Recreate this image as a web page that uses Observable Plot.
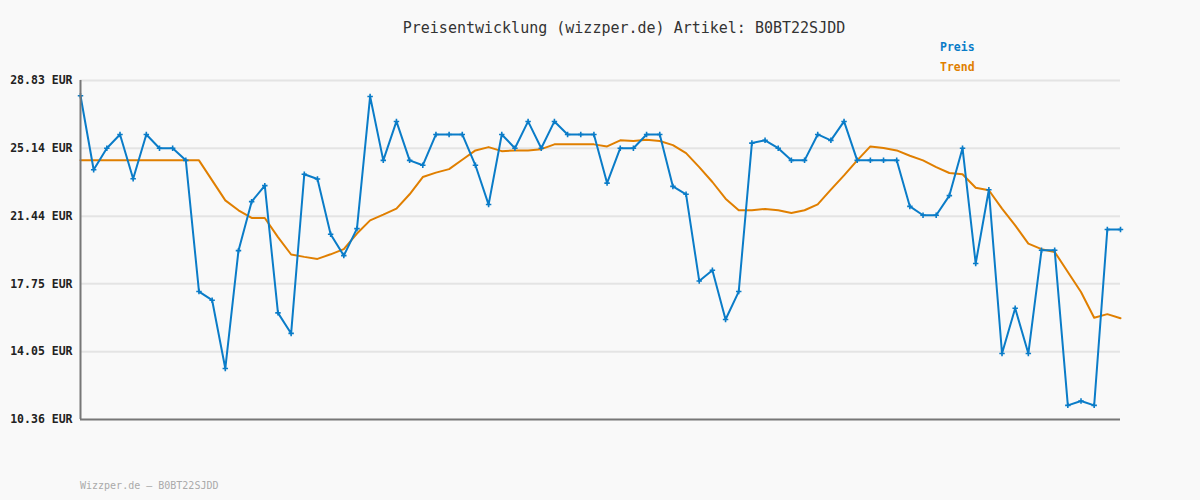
<!DOCTYPE html>
<html>
<head>
<meta charset="utf-8">
<script src="https://cdn.jsdelivr.net/npm/d3@7"></script>
<script src="https://cdn.jsdelivr.net/npm/@observablehq/plot@0.6"></script>
<style>
  html, body { margin: 0; padding: 0; background: #f9f9f9; }
  #wrap { position: relative; width: 1200px; height: 500px; background: #f9f9f9; overflow: hidden; font-family: "DejaVu Sans Mono", "Liberation Mono", monospace; }
  #title { position: absolute; left: 0; width: 1248px; top: 19px; text-align: center; font-size: 15px; color: #333; }
  .leg { position: absolute; left: 940px; font-size: 11.5px; font-weight: bold; }
  #footer { position: absolute; left: 80px; top: 480px; font-size: 10px; color: #aaa; }
  #chart { position: absolute; left: 0; top: 0; }
</style>
</head>
<body>
<div id="wrap">
  <div id="chart"></div>
  <div id="title">Preisentwicklung (wizzper.de) Artikel: B0BT22SJDD</div>
  <div class="leg" id="legPreis" style="top:40px;color:#0a7cc8">Preis</div>
  <div class="leg" id="legTrend" style="top:60px;color:#e07f00">Trend</div>
  <div id="footer">Wizzper.de – B0BT22SJDD</div>
</div>
<script>
const yTicks = [10.36, 14.05, 17.75, 21.44, 25.14, 28.83];

const preis = [
  28.0, 23.97, 25.14, 25.89, 23.48, 25.89, 25.14, 25.14, 24.48, 17.33,
  16.86, 13.14, 19.56, 22.23, 23.10, 16.17, 15.05, 23.72, 23.46, 20.45,
  19.29, 20.76, 27.96, 24.48, 26.6, 24.48, 24.21, 25.89, 25.89, 25.89,
  24.21, 22.07, 25.89, 25.14, 26.6, 25.14, 26.6, 25.89, 25.89, 25.89,
  23.24, 25.14, 25.14, 25.89, 25.89, 23.06, 22.63, 17.91, 18.49, 15.81,
  17.33, 25.42, 25.57, 25.14, 24.48, 24.48, 25.89, 25.57, 26.6, 24.48,
  24.48, 24.48, 24.48, 21.97, 21.49, 21.49, 22.56, 25.14, 18.86, 22.88,
  13.96, 16.42, 13.96, 19.58, 19.58, 11.13, 11.37, 11.13, 20.71, 20.71
];

const trend = [
  24.48, 24.48, 24.48, 24.48, 24.48, 24.48, 24.48, 24.48, 24.48, 24.48,
  23.39, 22.3, 21.76, 21.34, 21.34, 20.3, 19.35, 19.22, 19.11, 19.36,
  19.64, 20.49, 21.21, 21.52, 21.85, 22.63, 23.57, 23.81, 24.0, 24.51,
  25.02, 25.2, 24.98, 25.02, 25.02, 25.09, 25.35, 25.35, 25.35, 25.35,
  25.24, 25.57, 25.53, 25.6, 25.53, 25.31, 24.87, 24.11, 23.3, 22.39,
  21.76, 21.76, 21.83, 21.76, 21.61, 21.76, 22.08, 22.88, 23.66, 24.48,
  25.24, 25.15, 25.02, 24.73, 24.48, 24.11, 23.79, 23.72, 22.99, 22.85,
  21.85, 20.94, 19.94, 19.64, 19.49, 18.4, 17.31, 15.9, 16.1, 15.88
];

const blue = "#0a7cc8";
const orange = "#e07f00";

const rows = preis.map((p, i) => ({i, preis: p, trend: trend[i]}));

const chart = Plot.plot({
  width: 1200,
  height: 500,
  marginTop: 80,
  marginBottom: 81,
  marginLeft: 80,
  marginRight: 80,
  style: {background: "transparent", fontFamily: "'DejaVu Sans Mono', monospace"},
  x: {domain: [0, preis.length - 1], axis: null},
  y: {domain: [yTicks[0], yTicks[yTicks.length - 1]]},
  marks: [
    Plot.ruleY(yTicks.slice(1), {stroke: "#e4e4e4", strokeWidth: 2}),
    Plot.axisY({
      ticks: yTicks,
      tickFormat: d => d.toFixed(2) + " EUR",
      tickSize: 0,
      tickPadding: 8,
      fontSize: 11.5,
      fontWeight: "bold",
      fill: "#222",
      label: null
    }),
    Plot.line(rows, {x: "i", y: "trend", stroke: orange, strokeWidth: 2}),
    Plot.line(rows, {x: "i", y: "preis", stroke: blue, strokeWidth: 2}),
    Plot.dot(rows, {x: "i", y: "preis", symbol: "plus", r: 1.9, stroke: blue, strokeWidth: 1.6}),
    Plot.ruleX([0], {stroke: "#777", strokeWidth: 2}),
    Plot.ruleY([yTicks[0]], {stroke: "#777", strokeWidth: 2})
  ]
});
document.getElementById("chart").appendChild(chart);
</script>
</body>
</html>
